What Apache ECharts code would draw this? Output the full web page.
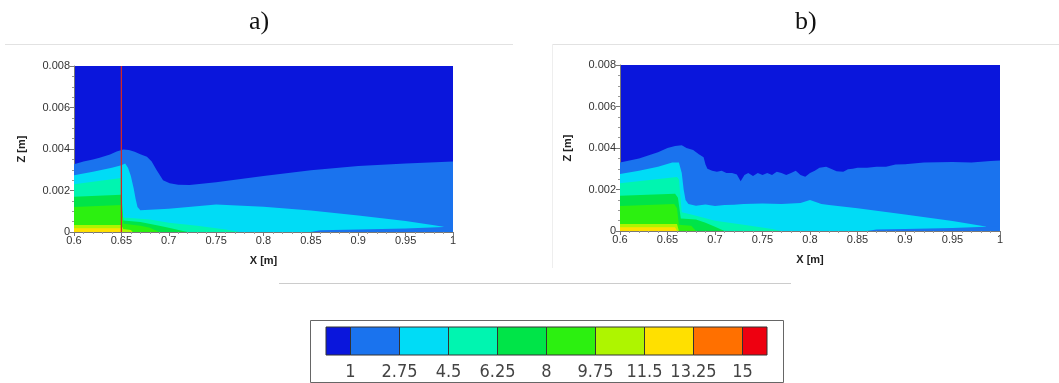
<!DOCTYPE html>
<html>
<head>
<meta charset="utf-8">
<script src="https://cdn.jsdelivr.net/npm/echarts@6/dist/echarts.min.js"></script>
<style>
html,body{margin:0;padding:0;background:#fff;}
#c{width:1059px;height:383px;}
</style>
</head>
<body>
<div id="c"></div>
<script>
// ---------- data ----------
const panelTitles = ['a)', 'b)'];
const xRange = [0.6, 1.0];
const zRange = [0, 0.008];
const xStep = 0.05;
const zStep = 0.002;
const probeX = 0.65;               // red probe line in panel a
const levels = [1, 2.75, 4.5, 6.25, 8, 9.75, 11.5, 13.25, 15];
const barEnds = [0.125, 15.875];   // colour bar extent (half a step beyond end levels)

// panel a: upper boundary of each contour band (x [m], z [m])
const aBlueTop = [[0.6,0.00326],[0.61,0.0034],[0.62,0.0035],[0.627,0.00358],[0.638,0.00374],[0.645,0.00388],[0.652,0.00397],[0.658,0.00395],[0.664,0.00387],[0.67,0.00375],[0.677,0.00363],[0.682,0.0034],[0.687,0.003],[0.694,0.0025],[0.701,0.00235],[0.71,0.00228],[0.722,0.00227],[0.75,0.0024],[0.8,0.0027],[0.85,0.00297],[0.9,0.00318],[0.95,0.0033],[1.0,0.0034]];
const aCyanTop = [[0.6,0.00273],[0.62,0.0029],[0.64,0.0031],[0.65,0.00322],[0.654,0.0033],[0.657,0.0031],[0.66,0.0027],[0.663,0.0021],[0.665,0.0016],[0.667,0.0012],[0.67,0.00105],[0.7,0.00112],[0.75,0.00132],[0.8,0.00122],[0.85,0.00104],[0.9,0.0008],[0.95,0.00053],[0.98,0.00032],[0.99,0.00025],[0.992,0],[1.0,0]];
const aBlueBottom = [[0.85,0],[0.86,0.00008],[0.9,0.00012],[0.95,0.00017],[0.99,0.00024],[1.0,0.00024]];
const aAquaTop = [[0.6,0.0023],[0.65,0.0026],[0.651,0.0026],[0.652,0.0007],[0.68,0.0006],[0.7,0.00045],[0.73,0.0003],[0.76,0.00012],[0.775,0]];
const aGreenTop = [[0.6,0.0017],[0.65,0.0018],[0.651,0.0018],[0.652,0.00055],[0.67,0.00048],[0.69,0.0003],[0.7,0.0002],[0.715,0.00005],[0.72,0]];
const aLimeTop = [[0.6,0.0012],[0.65,0.0013],[0.651,0.0013],[0.652,0.0004],[0.67,0.0003],[0.68,0.0002],[0.69,0]];
const aYgTop = [[0.6,0.00034],[0.65,0.00034],[0.651,0.00034],[0.652,0.00015],[0.66,0.0001],[0.662,0]];
const aYellowTop = [[0.6,0.00018],[0.65,0.00018],[0.651,0]];
const probeLine = [[probeX, zRange[0]], [probeX, zRange[1]]];

// panel b
const bBlueTop = [[0.6,0.0033],[0.62,0.0035],[0.64,0.0038],[0.65,0.004],[0.658,0.0041],[0.665,0.00413],[0.67,0.004],[0.677,0.0039],[0.683,0.0037],[0.688,0.00355],[0.69,0.0032],[0.692,0.003],[0.697,0.0029],[0.702,0.00286],[0.707,0.0029],[0.712,0.0028],[0.718,0.0028],[0.723,0.00272],[0.727,0.0024],[0.731,0.0027],[0.735,0.0028],[0.74,0.00265],[0.745,0.0028],[0.75,0.0027],[0.755,0.0028],[0.76,0.0027],[0.765,0.00285],[0.77,0.0028],[0.775,0.0027],[0.78,0.0028],[0.785,0.0029],[0.79,0.0027],[0.795,0.00262],[0.8,0.0028],[0.805,0.0029],[0.81,0.00305],[0.817,0.0031],[0.822,0.003],[0.828,0.00288],[0.835,0.00285],[0.84,0.00298],[0.845,0.003],[0.85,0.00305],[0.86,0.00305],[0.87,0.0031],[0.88,0.0031],[0.89,0.0032],[0.9,0.00322],[0.92,0.0033],[0.95,0.00333],[0.97,0.0033],[0.99,0.00337],[1.0,0.0034]];
const bCyanTop = [[0.6,0.00275],[0.62,0.0029],[0.64,0.0031],[0.655,0.0033],[0.662,0.0033],[0.665,0.0028],[0.667,0.002],[0.669,0.0015],[0.672,0.0013],[0.68,0.00122],[0.69,0.00128],[0.7,0.0012],[0.71,0.00125],[0.72,0.00127],[0.73,0.0013],[0.75,0.00133],[0.77,0.0013],[0.79,0.00135],[0.8,0.0015],[0.806,0.0014],[0.812,0.0013],[0.82,0.00125],[0.85,0.0011],[0.9,0.0008],[0.95,0.00048],[0.985,0.00022],[0.987,0],[1.0,0]];
const bBlueBottom = [[0.86,0],[0.87,0.00007],[0.9,0.0001],[0.95,0.00014],[0.985,0.0002],[1.0,0.0002]];
const bAquaTop = [[0.6,0.0023],[0.66,0.0026],[0.662,0.0025],[0.665,0.0009],[0.675,0.0008],[0.7,0.0005],[0.73,0.0003],[0.76,0.0001],[0.77,0]];
const bGreenTop = [[0.6,0.0017],[0.658,0.0018],[0.661,0.0016],[0.664,0.0006],[0.68,0.00055],[0.69,0.0004],[0.7,0.0002],[0.71,0]];
const bLimeTop = [[0.6,0.0012],[0.657,0.0013],[0.66,0.0011],[0.662,0.0003],[0.675,0.00025],[0.68,0]];
const bYgTop = [[0.6,0.00034],[0.66,0.00034],[0.662,0]];
const bYellowTop = [[0.6,0.00018],[0.658,0.00018],[0.66,0]];

// ---------- styles ----------
const palette = ['#0a16dc','#1a73ee','#00dcf6','#00f5b0','#00e448','#2cf010','#aef500','#ffe000','#ff7000','#ee0010'];
const tickFont = {fontFamily:'Liberation Sans, Arial, sans-serif', fontSize:11, color:'#333'};

function band(data, colorIdx, gi) {
  return {
    type:'line', xAxisIndex:gi, yAxisIndex:gi, data:data, symbol:'none', showSymbol:false,
    lineStyle:{width:0}, areaStyle:{color:palette[colorIdx], opacity:1},
    silent:true, animation:false
  };
}

function plotAxes(gi) {
  return {
    x: {
      type:'value', gridIndex:gi, min:xRange[0], max:xRange[1], interval:xStep,
      name:'X [m]', nameLocation:'middle', nameGap:23,
      nameTextStyle:{fontFamily:'Liberation Sans, Arial, sans-serif', fontSize:11, fontWeight:'bold', color:'#222'},
      axisLine:{show:true, onZero:false, lineStyle:{color:'#777', width:1}},
      axisTick:{show:true, length:4, lineStyle:{color:'#777'}},
      minorTick:{show:true, splitNumber:5, length:2, lineStyle:{color:'#999'}},
      axisLabel:Object.assign({margin:3}, tickFont),
      splitLine:{show:false}
    },
    y: {
      type:'value', gridIndex:gi, min:zRange[0], max:zRange[1], interval:zStep,
      name:'Z [m]', nameLocation:'middle', nameGap:47, nameRotate:90,
      nameTextStyle:{fontFamily:'Liberation Sans, Arial, sans-serif', fontSize:11, fontWeight:'bold', color:'#222'},
      axisLine:{show:true, lineStyle:{color:'#777', width:1}},
      axisTick:{show:true, length:4, lineStyle:{color:'#777'}},
      minorTick:{show:true, splitNumber:4, length:2, lineStyle:{color:'#999'}},
      axisLabel:Object.assign({margin:4}, tickFont),
      splitLine:{show:false}
    }
  };
}

const axA = plotAxes(0), axB = plotAxes(1);

const barCells = [];
const edges = [barEnds[0]].concat(levels, [barEnds[1]]);
for (let i = 0; i < edges.length - 1; i++) barCells.push([edges[i], edges[i+1], i]);

const series = [
  band(aBlueTop, 1, 0),
  band(aCyanTop, 2, 0),
  band(aAquaTop, 3, 0),
  band(aGreenTop, 4, 0),
  band(aLimeTop, 5, 0),
  band(aYgTop, 6, 0),
  band(aYellowTop, 7, 0),
  band(aBlueBottom, 1, 0),
  {
    type:'line', xAxisIndex:0, yAxisIndex:0, data:probeLine, symbol:'none', showSymbol:false,
    lineStyle:{color:'#d02828', width:1.3, type:'solid', opacity:1}, silent:true, animation:false, z:5
  },
  band(bBlueTop, 1, 1),
  band(bCyanTop, 2, 1),
  band(bAquaTop, 3, 1),
  band(bGreenTop, 4, 1),
  band(bLimeTop, 5, 1),
  band(bYgTop, 6, 1),
  band(bYellowTop, 7, 1),
  band(bBlueBottom, 1, 1),
  {
    type:'custom', xAxisIndex:2, yAxisIndex:2, data:barCells, silent:true, animation:false,
    renderItem:function(params, api){
      const s = api.coord([api.value(0), 0]);
      const e = api.coord([api.value(1), 1]);
      return {type:'rect', shape:{x:s[0], y:e[1], width:e[0]-s[0], height:s[1]-e[1]},
        style:{fill:palette[api.value(2)], stroke:'#333', lineWidth:1}};
    }
  }
];

const option = {
  backgroundColor:'#ffffff',
  animation:false,
  title:[
    {text:panelTitles[0], left:249, top:9, padding:0, textStyle:{fontFamily:'Liberation Serif, DejaVu Serif, serif', fontSize:26, fontWeight:'normal', color:'#111'}},
    {text:panelTitles[1], left:795, top:9, padding:0, textStyle:{fontFamily:'Liberation Serif, DejaVu Serif, serif', fontSize:26, fontWeight:'normal', color:'#111'}}
  ],
  grid:[
    {left:74, top:66, width:379, height:166, show:true, backgroundColor:palette[0], borderWidth:0, containLabel:false},
    {left:620, top:65, width:380, height:166, show:true, backgroundColor:palette[0], borderWidth:0, containLabel:false},
    {left:326, top:327, width:441, height:28, show:false, containLabel:false}
  ],
  xAxis:[axA.x, axB.x, {
    type:'value', gridIndex:2, min:barEnds[0], max:barEnds[1],
    axisLine:{show:false}, axisTick:{show:false}, splitLine:{show:false},
    axisLabel:{customValues:levels, margin:8, fontFamily:'Liberation Sans Narrow, DejaVu Sans Condensed, Liberation Sans, sans-serif', fontSize:18, color:'#444',
      formatter:function(v){ return String(v); }}
  }],
  yAxis:[axA.y, axB.y, {type:'value', gridIndex:2, min:0, max:1, show:false}],
  graphic:[
    {type:'line', shape:{x1:5, y1:44.5, x2:513, y2:44.5}, style:{stroke:'#e2e2e2', lineWidth:1}, silent:true},
    {type:'line', shape:{x1:552, y1:44.5, x2:1059, y2:44.5}, style:{stroke:'#e2e2e2', lineWidth:1}, silent:true},
    {type:'line', shape:{x1:552.5, y1:44, x2:552.5, y2:268}, style:{stroke:'#eeeeee', lineWidth:1}, silent:true},
    {type:'line', shape:{x1:279, y1:283.5, x2:791, y2:283.5}, style:{stroke:'#cccccc', lineWidth:1}, silent:true},
    {type:'rect', shape:{x:310.5, y:320.5, width:473, height:62}, style:{fill:'none', stroke:'#666', lineWidth:1}, silent:true}
  ],
  series:series
};

const chart = echarts.init(document.getElementById('c'), null, {renderer:'canvas'});
chart.setOption(option);
</script>
</body>
</html>
